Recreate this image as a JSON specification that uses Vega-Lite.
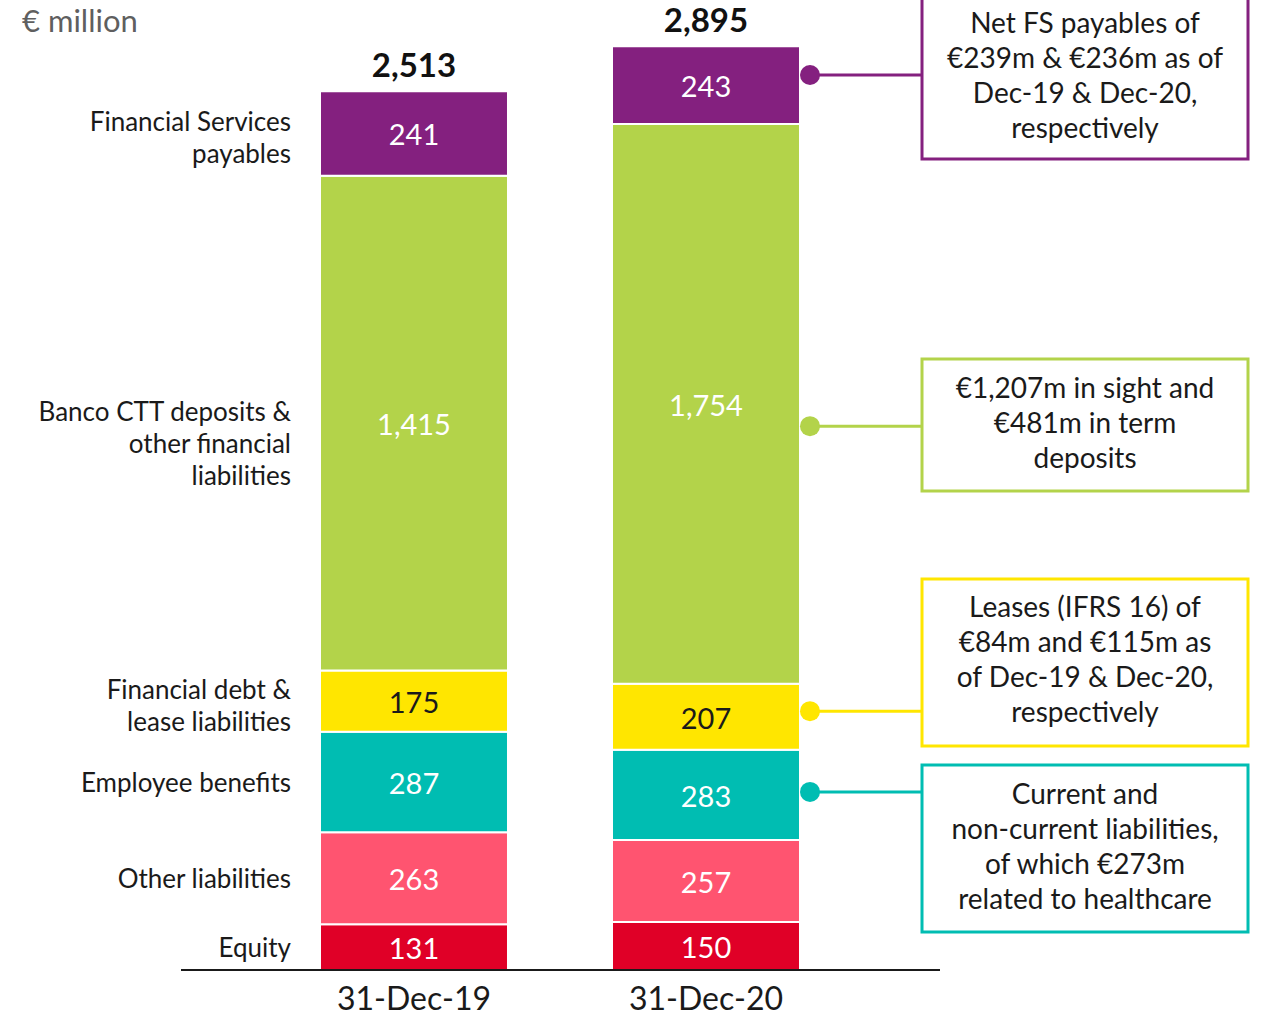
{
  "$schema": "https://vega.github.io/schema/vega-lite/v6.json",
  "width": 1271,
  "height": 1016,
  "autosize": "none",
  "padding": 0,
  "background": "white",
  "config": {"view": {"stroke": null}, "font": "Lato", "text": {"font": "Lato"}},
  "title": {"text": "€ million", "anchor": "start", "frame": "group", "orient": "top", "offset": -35, "dx": 22, "dy": 33, "baseline": "alphabetic", "fontSize": 31, "fontWeight": "normal", "color": "#5f5f5f", "font": "Lato"},
  "datasets": {
    "seg": [
      {"date": "31-Dec-19", "ord": 1, "cat": "Equity", "name": "Equity", "value": 131},
      {"date": "31-Dec-19", "ord": 2, "cat": "Other liabilities", "name": "Other liabilities", "value": 263},
      {"date": "31-Dec-19", "ord": 3, "cat": "Employee benefits", "name": "Employee benefits", "value": 287},
      {"date": "31-Dec-19", "ord": 4, "cat": "Financial debt & lease liabilities", "name": "Financial debt &\nlease liabilities", "value": 175},
      {"date": "31-Dec-19", "ord": 5, "cat": "Banco CTT deposits & other financial liabilities", "name": "Banco CTT deposits &\nother financial\nliabilities", "value": 1415},
      {"date": "31-Dec-19", "ord": 6, "cat": "Financial Services payables", "name": "Financial Services\npayables", "value": 241},
      {"date": "31-Dec-20", "ord": 1, "cat": "Equity", "name": "Equity", "value": 150},
      {"date": "31-Dec-20", "ord": 2, "cat": "Other liabilities", "name": "Other liabilities", "value": 257},
      {"date": "31-Dec-20", "ord": 3, "cat": "Employee benefits", "name": "Employee benefits", "value": 283},
      {"date": "31-Dec-20", "ord": 4, "cat": "Financial debt & lease liabilities", "name": "Financial debt &\nlease liabilities", "value": 207},
      {"date": "31-Dec-20", "ord": 5, "cat": "Banco CTT deposits & other financial liabilities", "name": "Banco CTT deposits &\nother financial\nliabilities", "value": 1754},
      {"date": "31-Dec-20", "ord": 6, "cat": "Financial Services payables", "name": "Financial Services\npayables", "value": 243}
    ],
    "tot": [
      {"date": "31-Dec-19", "total": 2513},
      {"date": "31-Dec-20", "total": 2895}
    ],
    "notes": [
      {"cat": "Financial Services payables", "note": "Net FS payables of\n€239m & €236m as of\nDec-19 & Dec-20,\nrespectively", "top": 3050, "bottom": 2541, "anchor": 2804},
      {"cat": "Banco CTT deposits & other financial liabilities", "note": "€1,207m in sight and\n€481m in term\ndeposits", "top": 1914, "bottom": 1501, "anchor": 1704},
      {"cat": "Financial debt & lease liabilities", "note": "Leases (IFRS 16) of\n€84m and €115m as\nof Dec-19 & Dec-20,\nrespectively", "top": 1225, "bottom": 702, "anchor": 811},
      {"cat": "Employee benefits", "note": "Current and\nnon-current liabilities,\nof which €273m\nrelated to healthcare", "top": 642, "bottom": 119, "anchor": 558}
    ]
  },
  "layer": [
    {
      "layer": [
        {
          "data": {"name": "seg"},
          "transform": [
            {"filter": "datum.date === '31-Dec-19'"},
            {"stack": "value", "groupby": ["date"], "sort": [{"field": "ord", "order": "ascending"}], "as": ["v0", "v1"]}
          ],
          "mark": {"type": "bar", "stroke": "white", "strokeWidth": 2},
          "encoding": {
            "x": {"field": "date", "type": "nominal", "scale": {"type": "band", "domain": ["31-Dec-19", "31-Dec-20", "notes"], "range": [320, 1092], "paddingInner": 0.3562, "paddingOuter": 0},
              "axis": {"orient": "bottom", "offset": -46, "domain": false, "ticks": false, "title": null, "labelFontSize": 32, "labelFont": "Lato", "labelColor": "#1a1a1a", "labelPadding": 14, "labelAngle": 0, "labelExpr": "datum.value === 'notes' ? '' : datum.value"}},
            "y": {"field": "v1", "type": "quantitative", "scale": {"domain": [0, 2513], "range": [970, 91], "nice": false, "zero": false}, "axis": null},
            "y2": {"field": "v0"},
            "color": {"field": "cat", "type": "nominal", "scale": {"domain": ["Equity", "Other liabilities", "Employee benefits", "Financial debt & lease liabilities", "Banco CTT deposits & other financial liabilities", "Financial Services payables"], "range": ["#E00027", "#FF5470", "#00BDB2", "#FFE600", "#B3D34A", "#84207F"]}, "legend": null}
          }
        },
        {
          "data": {"name": "seg"},
          "transform": [
            {"filter": "datum.date === '31-Dec-19'"},
            {"stack": "value", "groupby": ["date"], "sort": [{"field": "ord", "order": "ascending"}], "as": ["v0", "v1"]},
            {"fold": ["v0", "v1"], "as": ["edge", "pos"]},
            {"aggregate": [{"op": "mean", "field": "pos", "as": "mid"}], "groupby": ["date", "cat", "name", "value"]}
          ],
          "mark": {"type": "text", "fontSize": 29, "align": "center", "baseline": "middle", "yOffset": 3},
          "encoding": {
            "x": {"field": "date", "type": "nominal"},
            "y": {"field": "mid", "type": "quantitative"},
            "text": {"field": "value", "type": "quantitative", "format": ","},
            "color": {"condition": {"test": "datum.cat === 'Financial debt & lease liabilities'", "value": "#1a1a1a"}, "value": "white"}
          }
        },
        {
          "data": {"name": "seg"},
          "transform": [
            {"filter": "datum.date === '31-Dec-19'"},
            {"stack": "value", "groupby": ["date"], "sort": [{"field": "ord", "order": "ascending"}], "as": ["v0", "v1"]},
            {"filter": "datum.ord <= 3"},
            {"fold": ["v0", "v1"], "as": ["edge", "pos"]},
            {"aggregate": [{"op": "mean", "field": "pos", "as": "mid"}], "groupby": ["date", "cat", "name", "value"]}
          ],
          "mark": {"type": "text", "fontSize": 26, "align": "right", "baseline": "middle", "xOffset": -29, "yOffset": 2, "color": "#1a1a1a"},
          "encoding": {
            "x": {"field": "date", "type": "nominal", "bandPosition": 0},
            "y": {"field": "mid", "type": "quantitative"},
            "text": {"field": "name", "type": "nominal"}
          }
        },
        {
          "data": {"name": "seg"},
          "transform": [
            {"filter": "datum.date === '31-Dec-19'"},
            {"stack": "value", "groupby": ["date"], "sort": [{"field": "ord", "order": "ascending"}], "as": ["v0", "v1"]},
            {"filter": "datum.ord >= 4"},
            {"fold": ["v0", "v1"], "as": ["edge", "pos"]},
            {"aggregate": [{"op": "mean", "field": "pos", "as": "mid"}], "groupby": ["date", "cat", "name", "value"]}
          ],
          "mark": {"type": "text", "fontSize": 26, "align": "right", "baseline": "middle", "lineBreak": "\n", "lineHeight": 32, "xOffset": -29, "yOffset": -10, "color": "#1a1a1a"},
          "encoding": {
            "x": {"field": "date", "type": "nominal", "bandPosition": 0},
            "y": {"field": "mid", "type": "quantitative"},
            "text": {"field": "name", "type": "nominal"}
          }
        },
        {
          "data": {"name": "tot"},
          "transform": [{"filter": "datum.date === '31-Dec-19'"}],
          "mark": {"type": "text", "fontSize": 33, "fontWeight": "bold", "align": "center", "baseline": "alphabetic", "dy": -14, "color": "#111111"},
          "encoding": {
            "x": {"field": "date", "type": "nominal"},
            "y": {"field": "total", "type": "quantitative"},
            "text": {"field": "total", "type": "quantitative", "format": ","}
          }
        }
      ]
    },
    {
      "layer": [
        {
          "data": {"name": "seg"},
          "transform": [
            {"filter": "datum.date === '31-Dec-20'"},
            {"stack": "value", "groupby": ["date"], "sort": [{"field": "ord", "order": "ascending"}], "as": ["v0", "v1"]}
          ],
          "mark": {"type": "bar", "stroke": "white", "strokeWidth": 2},
          "encoding": {
            "x": {"field": "date", "type": "nominal"},
            "y": {"field": "v1", "type": "quantitative", "scale": {"domain": [0, 2895], "range": [970, 46], "nice": false, "zero": false}, "axis": null},
            "y2": {"field": "v0"},
            "color": {"field": "cat", "type": "nominal", "scale": {"domain": ["Equity", "Other liabilities", "Employee benefits", "Financial debt & lease liabilities", "Banco CTT deposits & other financial liabilities", "Financial Services payables"], "range": ["#E00027", "#FF5470", "#00BDB2", "#FFE600", "#B3D34A", "#84207F"]}, "legend": null}
          }
        },
        {
          "data": {"name": "seg"},
          "transform": [
            {"filter": "datum.date === '31-Dec-20'"},
            {"stack": "value", "groupby": ["date"], "sort": [{"field": "ord", "order": "ascending"}], "as": ["v0", "v1"]},
            {"fold": ["v0", "v1"], "as": ["edge", "pos"]},
            {"aggregate": [{"op": "mean", "field": "pos", "as": "mid"}], "groupby": ["date", "cat", "name", "value"]}
          ],
          "mark": {"type": "text", "fontSize": 29, "align": "center", "baseline": "middle", "yOffset": 3},
          "encoding": {
            "x": {"field": "date", "type": "nominal"},
            "y": {"field": "mid", "type": "quantitative"},
            "text": {"field": "value", "type": "quantitative", "format": ","},
            "color": {"condition": {"test": "datum.cat === 'Financial debt & lease liabilities'", "value": "#1a1a1a"}, "value": "white"}
          }
        },
        {
          "data": {"name": "tot"},
          "transform": [{"filter": "datum.date === '31-Dec-20'"}],
          "mark": {"type": "text", "fontSize": 33, "fontWeight": "bold", "align": "center", "baseline": "alphabetic", "dy": -14, "color": "#111111"},
          "encoding": {
            "x": {"field": "date", "type": "nominal"},
            "y": {"field": "total", "type": "quantitative"},
            "text": {"field": "total", "type": "quantitative", "format": ","}
          }
        },
        {
          "data": {"values": [{}]},
          "mark": {"type": "rule", "strokeWidth": 2, "color": "#1a1a1a", "xOffset": -139, "x2Offset": 140},
          "encoding": {
            "x": {"datum": "31-Dec-19", "type": "nominal", "bandPosition": 0},
            "x2": {"datum": "31-Dec-20", "bandPosition": 1},
            "y": {"datum": 0, "type": "quantitative"}
          }
        },
        {
          "data": {"name": "notes"},
          "mark": {"type": "rule", "strokeWidth": 3, "xOffset": 10, "x2Offset": 18},
          "encoding": {
            "x": {"datum": "31-Dec-20", "type": "nominal", "bandPosition": 1},
            "x2": {"datum": "notes", "bandPosition": 0},
            "y": {"field": "anchor", "type": "quantitative"},
            "color": {"field": "cat", "type": "nominal", "legend": null}
          }
        },
        {
          "data": {"name": "notes"},
          "mark": {"type": "point", "filled": true, "opacity": 1, "size": 400, "xOffset": 10},
          "encoding": {
            "x": {"datum": "31-Dec-20", "type": "nominal", "bandPosition": 1},
            "y": {"field": "anchor", "type": "quantitative"},
            "color": {"field": "cat", "type": "nominal", "legend": null}
          }
        },
        {
          "data": {"name": "notes"},
          "mark": {"type": "rect", "fill": "white", "strokeWidth": 3, "width": 326, "xOffset": 87},
          "encoding": {
            "x": {"datum": "notes", "type": "nominal"},
            "y": {"field": "top", "type": "quantitative"},
            "y2": {"field": "bottom"},
            "stroke": {"field": "cat", "type": "nominal", "scale": {"domain": ["Equity", "Other liabilities", "Employee benefits", "Financial debt & lease liabilities", "Banco CTT deposits & other financial liabilities", "Financial Services payables"], "range": ["#E00027", "#FF5470", "#00BDB2", "#FFE600", "#B3D34A", "#84207F"]}, "legend": null}
          }
        },
        {
          "data": {"name": "notes"},
          "transform": [
            {"filter": "datum.cat !== 'Banco CTT deposits & other financial liabilities'"},
            {"fold": ["top", "bottom"], "as": ["edge", "pos"]},
            {"aggregate": [{"op": "mean", "field": "pos", "as": "mid"}], "groupby": ["cat", "note"]}
          ],
          "mark": {"type": "text", "fontSize": 28, "align": "center", "baseline": "middle", "lineBreak": "\n", "lineHeight": 35, "xOffset": 87, "yOffset": -53, "color": "#1a1a1a"},
          "encoding": {
            "x": {"datum": "notes", "type": "nominal"},
            "y": {"field": "mid", "type": "quantitative"},
            "text": {"field": "note", "type": "nominal"}
          }
        },
        {
          "data": {"name": "notes"},
          "transform": [
            {"filter": "datum.cat === 'Banco CTT deposits & other financial liabilities'"},
            {"fold": ["top", "bottom"], "as": ["edge", "pos"]},
            {"aggregate": [{"op": "mean", "field": "pos", "as": "mid"}], "groupby": ["cat", "note"]}
          ],
          "mark": {"type": "text", "fontSize": 28, "align": "center", "baseline": "middle", "lineBreak": "\n", "lineHeight": 35, "xOffset": 87, "yOffset": -35, "color": "#1a1a1a"},
          "encoding": {
            "x": {"datum": "notes", "type": "nominal"},
            "y": {"field": "mid", "type": "quantitative"},
            "text": {"field": "note", "type": "nominal"}
          }
        }
      ]
    }
  ],
  "resolve": {"scale": {"y": "independent"}}
}
